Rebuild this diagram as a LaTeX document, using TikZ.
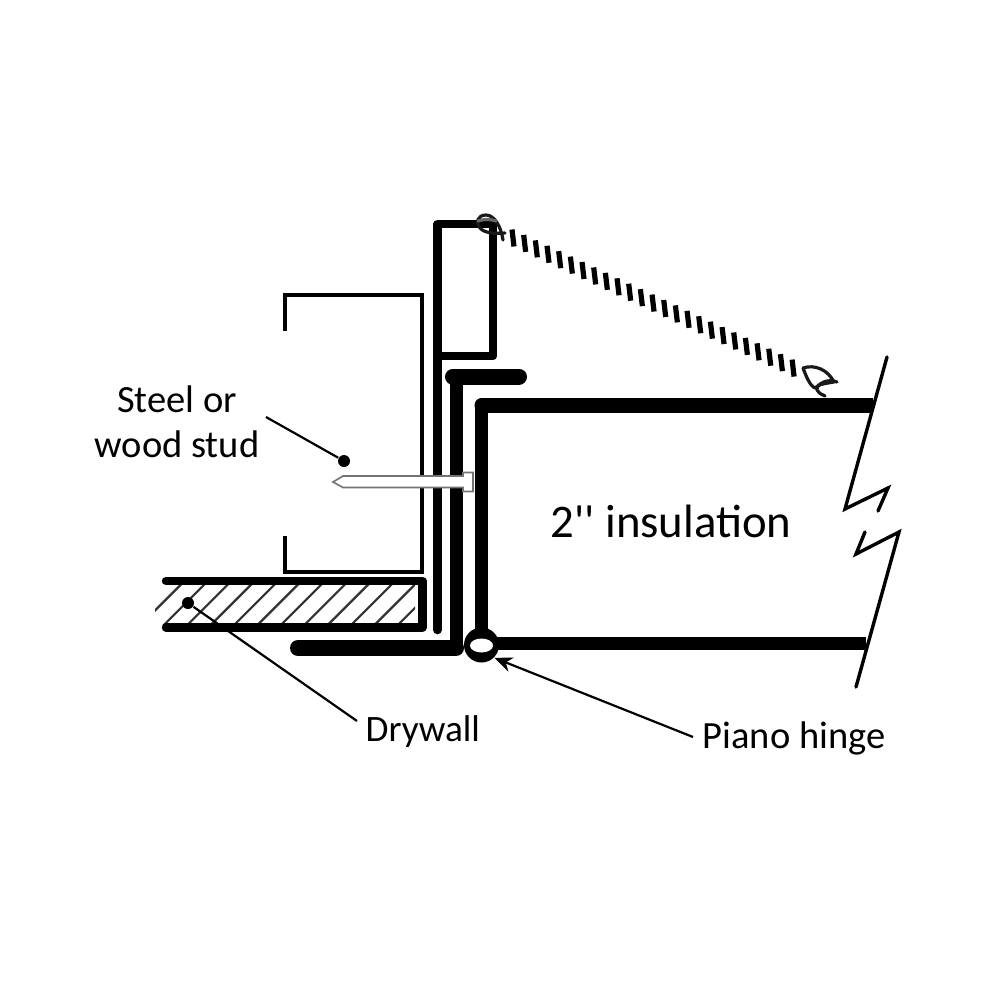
\documentclass[tikz,border=0pt]{standalone}
\usepackage{fontspec}
\setmainfont{Carlito}
\newfontfamily\plainquote{Carlito}
\usetikzlibrary{arrows.meta,shapes.geometric}
\newcommand{\pxw}{0.2845pt}
\tikzset{
  x=0.01cm,y=-0.01cm,
  wall/.style={line width=#1*\pxw,line cap=round,line join=round,black},
  label text/.style={inner sep=0pt,align=center,font=\fontsize{10.95pt}{12.8pt}\selectfont},
  leader/.style={line width=2.2*\pxw,black},
  thin break/.style={line width=3.4*\pxw,line cap=round,line join=miter,black},
  hatchline/.style={line width=2.2*\pxw,black!80},
  dotmark/.style={circle,fill=black,inner sep=0pt,minimum size=12*\pxw},
  knot/.style={line width=3.2*\pxw,black!90,line join=round,line cap=round},
  tick/.style={line width=5.2*\pxw,black}
}
\begin{document}
\begin{tikzpicture}
\useasboundingbox[fill=white] (0,0) rectangle (1000,1000);
% hatch of drywall
\begin{scope}
\clip (155,584) rectangle (415,624);
\foreach \i in {0,...,12}{
  \draw[hatchline] ({135.5+\i*23.4},630) -- ({135.5+\i*23.4+55},575);
}
\end{scope}
% stud
\draw[line width=4*\pxw,black,line join=miter] (285,331) -- (285,295) -- (422,295) -- (422,572) -- (285,572) -- (285,536);
% drywall outline
\draw[wall=8.5] (166,581) -- (422.5,581) -- (422.5,627.5) -- (166,627.5);
% tall box and long leg
\draw[wall=8.5] (437.5,630) -- (437.5,224) -- (493,224) -- (493,356) -- (437.5,356);
% Z channel
\draw[wall=13] (456.5,378) -- (456.5,648);
\draw[wall=16] (453,376.5) -- (519,376.5);
\draw[wall=16] (298,648) -- (456,648);
% panel
\draw[wall=13] (481,640) -- (481,405);
\draw[wall=15] (482,405) -- (700,405);
\draw[line width=15*\pxw,black] (690,405) -- (873,405);
\draw[line width=13*\pxw,black] (490,643) -- (866,643);
% nail
\draw[fill=white,draw=black!55,line width=1.6*\pxw,line join=miter] (333,482) -- (343,476) -- (463,476) -- (463,472.5) -- (473,472.5) -- (473,491.5) -- (463,491.5) -- (463,487.5) -- (343,487.5) -- cycle;
% hinge
\node[circle,fill=black,inner sep=0pt,minimum size=35*\pxw] (hinge) at (481.5,645) {};
\node[ellipse,fill=white,inner sep=0pt,minimum width=23*\pxw,minimum height=14*\pxw] (hingeHole) at (481.5,645.5) {};
% cable
\foreach \i in {0,...,24}{
  \draw[tick] ({513+\i*11.67-1},{238+\i*5.42-8.5}) -- ({513+\i*11.67+1},{238+\i*5.42+8.5});
}
% knots
\draw[knot] (503,240) .. controls (501,226) and (494,215) .. (486,215) .. controls (478,215) and (475,222) .. (480,228) .. controls (484,233) and (495,234) .. (505,233);
\draw[knot,black!60] (478,221) .. controls (484,219) and (490,219) .. (496,221);
\draw[knot] (803,368) .. controls (815,364) and (828,370) .. (834,382) .. controls (828,383) and (818,384) .. (815,388) .. controls (810,386) and (806,376) .. (803,368);
\draw[knot] (837,382) .. controls (828,378) and (816,384) .. (817,390) .. controls (818,393) and (821,394) .. (825,396);
% break line
\draw[thin break] (887,357) -- (845,509) -- (888,488) -- (878,511);
\draw[thin break] (865,532) -- (856,554) -- (899,532) -- (856,687);
% labels
\node[label text] (stud) at (177,422) {Steel or\\wood stud};
\node[label text,anchor=west,font=\fontsize{10.6pt}{12.8pt}\selectfont] (dry) at (365,732) {Drywall};
\node[label text,anchor=west] (piano) at (702,738) {Piano hinge};
\node[inner sep=0pt,font=\fontsize{13.3pt}{15pt}\selectfont] (ins) at (671,521) {2{\plainquote\char39\char39} insulation};
% leaders
\node[dotmark] (dotS) at (344,461) {};
\node[dotmark] (dotD) at (188,603) {};
\coordinate (studL) at (266,417);
\coordinate (dryL) at (357,721);
\coordinate (pianoL) at (693,737);
\draw[leader] (studL) -- (dotS);
\draw[leader] (dryL) -- (dotD);
\draw[leader,-{Stealth[length=18*\pxw,width=15*\pxw]}] (pianoL) -- (hinge.-45);
\end{tikzpicture}
\end{document}
